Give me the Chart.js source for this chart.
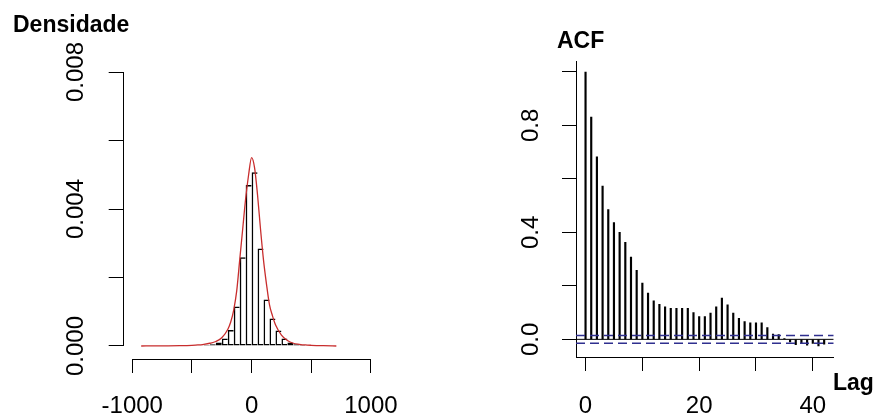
<!DOCTYPE html>
<html><head><meta charset="utf-8">
<script src="https://cdn.jsdelivr.net/npm/chart.js@4.4.1/dist/chart.umd.min.js"></script>
<style>
html,body{margin:0;padding:0;background:#fff;}
#wrap{position:relative;width:876px;height:416px;overflow:hidden;background:#fff;}
canvas{position:absolute;top:0;}
#c1{left:0;} #c2{left:438px;}
</style></head><body>
<div id="wrap"><canvas id="c1" width="438" height="416"></canvas><canvas id="c2" width="438" height="416"></canvas></div>
<script>
// ---------- Left panel: histogram + density ----------
const histBinCenters = [-525,-475,-425,-375,-325,-275,-225,-175,-125,-75,-25,25,75,125,175,225,275,325,375,425,475];
const histDensity    = [0.00001,0.00001,0.00002,0.00003,0.00005,0.0001,0.00022,0.00047,0.00115,0.00259,0.0047,0.00507,0.00285,0.00136,0.0008,0.00045,0.00022,0.0001,0.00005,0.00003,0.00001];
const densityX = [-925,-800,-700,-600,-500,-450,-400,-350,-300,-250,-200,-175,-150,-125,-100,-75,-50,-25,0,25,50,75,100,125,150,175,200,250,300,350,400,450,500,600,710];
const densityY = [0,0.000003,0.000005,0.00001,0.00002,0.00003,0.00005,0.00008,0.00013,0.00024,0.00048,0.0007,0.00105,0.0016,0.0025,0.0034,0.0043,0.0050,0.0055,0.0052,0.0044,0.0034,0.0025,0.0018,0.0012,0.00088,0.00062,0.00032,0.00016,0.00008,0.00005,0.00003,0.00002,0.000008,0];
const histXTicks = [-1000,-500,0,500,1000];
const histXTickLabels = ['-1000','','0','','1000'];
const histYTicks = [0,0.002,0.004,0.006,0.008];
const histYTickLabels = ['0.000','','0.004','','0.008'];
const histXRange = [-1080,1080];
const histYRange = [-0.00038,0.00838];

// ---------- Right panel: ACF ----------
const acfLags = [0,1,2,3,4,5,6,7,8,9,10,11,12,13,14,15,16,17,18,19,20,21,22,23,24,25,26,27,28,29,30,31,32,33,34,35,36,37,38,39,40,41,42];
const acfValues = [1.0,0.831,0.683,0.573,0.485,0.437,0.400,0.363,0.308,0.258,0.210,0.173,0.144,0.131,0.122,0.116,0.116,0.116,0.116,0.100,0.085,0.085,0.098,0.122,0.154,0.129,0.098,0.079,0.066,0.062,0.062,0.062,0.044,0.020,0.018,0.003,-0.010,-0.020,-0.012,-0.022,-0.015,-0.025,-0.018];
const acfCI = 0.0145;
const acfXTicks = [0,10,20,30,40];
const acfXTickLabels = ['0','','20','','40'];
const acfYTicks = [0,0.2,0.4,0.6,0.8,1.0];
const acfYTickLabels = ['0.0','','0.4','','0.8',''];
const acfXRange = [-1.68,43.68];
const acfYRange = [-0.066,1.041];

const FONT = '"Liberation Sans", Arial, sans-serif';
Chart.defaults.font.family = FONT;
Chart.defaults.font.size = 24;
Chart.defaults.color = '#000';

const rotatedYLabels = {
  id: 'rotatedYLabels',
  afterDraw(chart, args, opts) {
    const s = chart.scales.y, ctx = chart.ctx;
    ctx.save();
    ctx.fillStyle = '#000';
    ctx.font = '24px ' + FONT;
    ctx.textAlign = 'center';
    ctx.textBaseline = 'middle';
    opts.ticks.forEach((v, i) => {
      const lab = opts.labels[i];
      if (!lab) return;
      const y = s.getPixelForValue(v);
      ctx.save();
      ctx.translate(opts.x, y);
      ctx.rotate(-Math.PI / 2);
      ctx.fillText(lab, 0, 0);
      ctx.restore();
    });
    ctx.restore();
  }
};

const panelText = {
  id: 'panelText',
  afterDraw(chart, args, opts) {
    const ctx = chart.ctx;
    ctx.save();
    ctx.fillStyle = '#000';
    ctx.textAlign = 'left';
    ctx.textBaseline = 'alphabetic';
    (opts.items || []).forEach(it => {
      ctx.font = it.font;
      ctx.fillText(it.text, it.x, it.y);
    });
    ctx.restore();
  }
};

const rAxisLines = {
  id: 'rAxisLines',
  afterDraw(chart, args, opts) {
    if (!opts.enabled) return;
    const ctx = chart.ctx, xs = chart.scales.x, ys = chart.scales.y, ca = chart.chartArea;
    ctx.save();
    ctx.strokeStyle = '#000';
    ctx.lineWidth = 1;
    ctx.beginPath();
    const yb = Math.round(ca.bottom) + 0.5;
    ctx.moveTo(xs.getPixelForValue(opts.xTicks[0]), yb);
    ctx.lineTo(xs.getPixelForValue(opts.xTicks[opts.xTicks.length - 1]), yb);
    const xl = Math.round(ca.left) + 0.5;
    ctx.moveTo(xl, ys.getPixelForValue(opts.yTicks[0]));
    ctx.lineTo(xl, ys.getPixelForValue(opts.yTicks[opts.yTicks.length - 1]));
    ctx.stroke();
    ctx.restore();
  }
};

function xScale(range, ticks, labels, pad, border, h) {
  return {
    type: 'linear', min: range[0], max: range[1], offset: false,
    afterBuildTicks: s => { s.ticks = ticks.map(v => ({ value: v })); },
    afterFit: s => { s.height = h; },
    grid: { display: true, drawOnChartArea: false, drawTicks: true, tickLength: 14, color: '#000', lineWidth: 1, offset: false },
    border: { display: border, color: '#000', width: 1 },
    ticks: { autoSkip: false, maxRotation: 0, minRotation: 0, padding: pad, color: '#000',
             font: { size: 24, family: FONT },
             callback: (v, i) => labels[i] }
  };
}
function yScale(range, ticks, border) {
  return {
    type: 'linear', min: range[0], max: range[1],
    afterBuildTicks: s => { s.ticks = ticks.map(v => ({ value: v })); },
    afterFit: s => { s.width = 0; },
    grid: { display: true, drawOnChartArea: false, drawTicks: true, tickLength: 14, color: '#000', lineWidth: 1 },
    border: { display: border, color: '#000', width: 1 },
    ticks: { display: false }
  };
}

const lastBin = histBinCenters.length - 1;

// Left chart
new Chart(document.getElementById('c1'), {
  type: 'bar',
  data: {
    datasets: [
      {
        type: 'line', order: 0,
        data: densityX.map((x, i) => ({ x: x, y: densityY[i] })),
        borderColor: 'rgb(200,45,45)', borderWidth: 1.3, pointRadius: 0,
        cubicInterpolationMode: 'monotone', fill: false
      },
      {
        type: 'bar', order: 1,
        data: histBinCenters.map((x, i) => ({ x: x, y: histDensity[i] })),
        backgroundColor: 'rgba(0,0,0,0)', borderColor: '#000',
        borderWidth: c => ({ left: 1.5, top: 1.5, bottom: 1.5, right: c.dataIndex === lastBin ? 1.5 : 0 }),
        borderSkipped: false, inflateAmount: 0,
        barPercentage: 1, categoryPercentage: 1, grouped: false
      }
    ]
  },
  options: {
    responsive: false, animation: false, devicePixelRatio: 1, events: [],
    layout: { padding: { left: 122.7, right: 57.5, top: 59, bottom: 0 } },
    scales: {
      x: xScale(histXRange, histXTicks, histXTickLabels, 18.6, false, 57),
      y: yScale(histYRange, histYTicks, false)
    },
    plugins: {
      legend: { display: false }, tooltip: { enabled: false }, title: { display: false },
      rotatedYLabels: { ticks: histYTicks, labels: histYTickLabels, x: 76 },
      rAxisLines: { enabled: true, xTicks: histXTicks, yTicks: histYTicks },
      panelText: { items: [ { text: 'Densidade', x: 13, y: 32, font: 'bold 23px ' + FONT } ] }
    }
  },
  plugins: [rotatedYLabels, panelText, rAxisLines]
});

// Right chart
new Chart(document.getElementById('c2'), {
  type: 'bar',
  data: {
    datasets: [
      {
        type: 'line', order: 0,
        data: acfXRange.map(x => ({ x: x, y: acfCI })),
        borderColor: '#2f2f8f', borderWidth: 1.5, borderDash: [9, 5], pointRadius: 0, fill: false
      },
      {
        type: 'line', order: 0,
        data: acfXRange.map(x => ({ x: x, y: -acfCI })),
        borderColor: '#2f2f8f', borderWidth: 1.5, borderDash: [9, 5], pointRadius: 0, fill: false
      },
      {
        type: 'line', order: 1,
        data: acfXRange.map(x => ({ x: x, y: 0 })),
        borderColor: '#000', borderWidth: 1, pointRadius: 0, fill: false
      },
      {
        type: 'bar', order: 2,
        data: acfLags.map((l, i) => ({ x: l, y: acfValues[i] })),
        backgroundColor: '#000', borderWidth: 0, barThickness: 1.5, grouped: false
      }
    ]
  },
  options: {
    responsive: false, animation: false, devicePixelRatio: 1, events: [],
    layout: { padding: { left: 138, right: 42.3, top: 61, bottom: 0 } },
    scales: {
      x: xScale(acfXRange, acfXTicks, acfXTickLabels, 20.6, true, 59),
      y: yScale(acfYRange, acfYTicks, true)
    },
    plugins: {
      legend: { display: false }, tooltip: { enabled: false }, title: { display: false },
      rotatedYLabels: { ticks: acfYTicks, labels: acfYTickLabels, x: 93 },
      rAxisLines: { enabled: false },
      panelText: { items: [
        { text: 'ACF', x: 119, y: 48, font: 'bold 23px ' + FONT },
        { text: 'Lag', x: 395, y: 390, font: 'bold 23px ' + FONT }
      ] }
    }
  },
  plugins: [rotatedYLabels, panelText, rAxisLines]
});
</script>
</body></html>
